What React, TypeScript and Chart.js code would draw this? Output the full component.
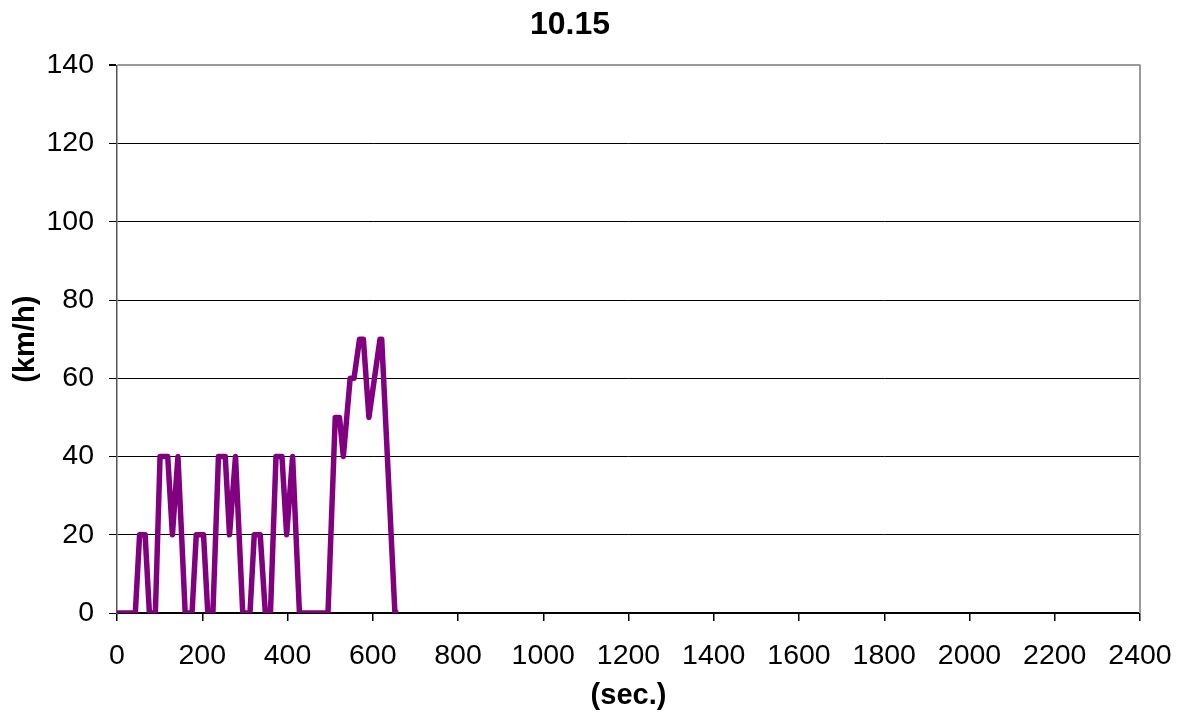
import React, { useEffect, useRef } from "react";
import { Chart, registerables } from "chart.js";

Chart.register(...registerables);

const chartTitle = "10.15";
const xAxisTitle = "(sec.)";
const yAxisTitle = "(km/h)";

const timeSec = [0, 43, 53, 66, 76, 90, 101, 119, 130, 143, 160, 176, 186, 203, 213, 225, 238, 254, 264, 278, 295, 312, 322, 336, 348, 360, 373, 387, 398, 412, 428, 495, 512, 522, 531, 547, 556, 569, 578, 591, 617, 621, 652, 660];
const speedKmh = [0, 0, 20, 20, 0, 0, 40, 40, 20, 40, 0, 0, 20, 20, 0, 0, 40, 40, 20, 40, 0, 0, 20, 20, 0, 0, 40, 40, 20, 40, 0, 0, 50, 50, 40, 60, 60, 70, 70, 50, 70, 70, 0, 0];

const xMin = 0;
const xMax = 2400;
const xStep = 200;
const yMin = 0;
const yMax = 140;
const yStep = 20;

const FONT = "'Liberation Sans', Arial, sans-serif";

const rightBorder = {
  id: "rightBorder",
  afterDraw(chart: any) {
    const { ctx, chartArea } = chart;
    ctx.save();
    ctx.strokeStyle = "#9a9a9a";
    ctx.lineWidth = 2;
    ctx.beginPath();
    ctx.moveTo(chartArea.right, chartArea.top - 1);
    ctx.lineTo(chartArea.right, chartArea.bottom);
    ctx.stroke();
    ctx.restore();
  },
};

export default function App() {
  const ref = useRef<HTMLCanvasElement>(null);
  useEffect(() => {
    if (!ref.current) return;
    const points = timeSec.map((t, i) => ({ x: t, y: speedKmh[i] }));
    const chart = new Chart(ref.current, {
      type: "line",
      data: {
        datasets: [
          {
            data: points,
            borderColor: "#800080",
            backgroundColor: "#800080",
            borderWidth: 5.5,
            pointRadius: 0,
            tension: 0,
            borderJoinStyle: "round",
            fill: false,
          },
        ],
      },
      options: {
        animation: false,
        responsive: true,
        maintainAspectRatio: false,
        layout: { padding: { left: 0, right: 46, top: 0, bottom: 0 } },
        plugins: {
          legend: { display: false },
          tooltip: { enabled: false },
          title: {
            display: true,
            text: chartTitle,
            color: "#000",
            font: { family: FONT, size: 32, weight: "bold" },
            padding: { top: 6, bottom: 21 },
          },
        },
        scales: {
          x: {
            type: "linear",
            min: xMin,
            max: xMax,
            afterFit: (s: any) => {
              s.height = 105;
              s.paddingLeft = 0;
              s.paddingRight = 0;
            },
            ticks: {
              stepSize: xStep,
              color: "#000",
              font: { family: FONT, size: 28.5 },
              padding: 18,
              maxRotation: 0,
              autoSkip: false,
              callback: (v: any) => String(v),
            },
            grid: {
              drawOnChartArea: false,
              tickLength: 8,
              tickColor: "#000",
              lineWidth: 1.5,
            },
            border: { color: "#000", width: 1.5 },
            title: {
              display: true,
              text: xAxisTitle,
              color: "#000",
              font: { family: FONT, size: 29, weight: "bold" },
              padding: { top: 0, bottom: 5 },
            },
          },
          y: {
            type: "linear",
            min: yMin,
            max: yMax,
            afterFit: (s: any) => {
              s.width = 117;
              s.paddingTop = 0;
              s.paddingBottom = 0;
            },
            ticks: {
              stepSize: yStep,
              color: "#000",
              font: { family: FONT, size: 28.5 },
              padding: 15,
              callback: (v: any) => String(v),
            },
            grid: {
              color: (c: any) => (c.tick && c.tick.value === yMax ? "#9a9a9a" : "#000"),
              lineWidth: (c: any) => (c.tick && c.tick.value === yMax ? 2 : 1),
              tickLength: 8,
              tickColor: "#000",
            },
            border: { color: "#555", width: 1.5 },
            title: {
              display: true,
              text: yAxisTitle,
              color: "#000",
              font: { family: FONT, size: 29, weight: "bold" },
              padding: { top: 9, bottom: 0 },
            },
          },
        },
      },
      plugins: [rightBorder],
    });
    return () => chart.destroy();
  }, []);
  return (
    <div style={{ position: "fixed", left: 0, top: 0, width: 1186, height: 718, background: "#fff" }}>
      <canvas ref={ref} />
    </div>
  );
}
